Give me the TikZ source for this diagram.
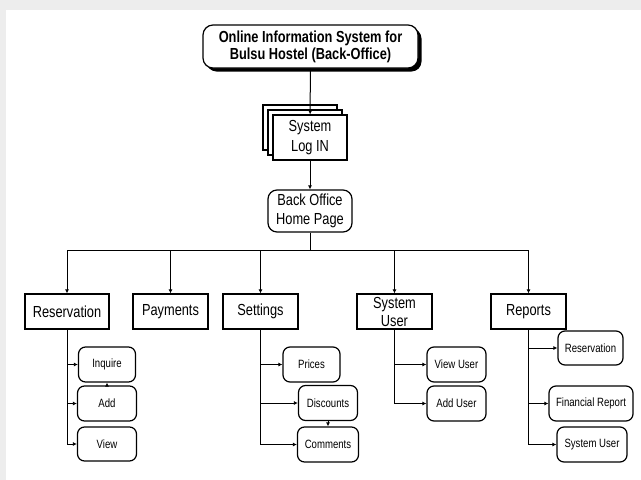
\documentclass[tikz,border=0pt]{standalone}
\usepackage{fontspec}
\setmainfont{Liberation Sans}[FakeStretch=0.8]
\usetikzlibrary{arrows.meta,shadows}

\tikzset{
  >={Latex[length=4pt,width=4pt]},
  link/.style={->,line width=1pt},
  topbox/.style={draw,line width=1.2pt,fill=white,rounded corners=10pt,align=center,inner sep=0pt,
    font=\fontsize{16}{17}\selectfont\bfseries,minimum width=215pt,minimum height=43pt,
    drop shadow={shadow xshift=3.5pt,shadow yshift=-3.5pt,fill=black,opacity=1}},
  stackbox/.style={draw,line width=1.2pt,fill=white,align=center,inner sep=0pt,
    font=\fontsize{16}{20}\selectfont,minimum width=74pt,minimum height=45pt,
    copy shadow={shadow xshift=-10pt,shadow yshift=10pt},
    copy shadow={shadow xshift=-5pt,shadow yshift=5pt}},
  homebox/.style={draw,line width=1.2pt,rounded corners=9pt,align=center,inner sep=0pt,
    font=\fontsize{16}{19}\selectfont,minimum width=84pt,minimum height=42pt},
  modbox/.style={draw,line width=1.2pt,align=center,inner sep=0pt,
    font=\fontsize{16}{18}\selectfont,minimum height=35pt},
  subbox/.style={draw,line width=1.2pt,rounded corners=7pt,inner sep=0pt,
    font=\fontsize{12}{14}\selectfont,minimum height=35pt},
}

\begin{document}
\begin{tikzpicture}[x=1pt,y=-1pt]
% Frame
\fill[black!7] (0,0) rectangle (641,480);
\fill[white] (6,10) rectangle (641,480);
\useasboundingbox (0,0) rectangle (641,480);
% Top
\node[topbox] (oisb) at (310.5,46.5) {Online Information System for\\Bulsu Hostel (Back-Office)};
\node[stackbox] (login) at (310,137.5) {System\\Log IN};
\node[homebox] (home) at (310,211) {Back Office\\Home Page};
\draw[link] (oisb) -- (login);
\draw[link] (login) -- (home);
% Modules
\node[modbox,minimum width=84pt] (resv) at (67,311.5) {Reservation};
\node[modbox,minimum width=75pt] (pay) at (170.5,311.5) {Payments};
\node[modbox,minimum width=75pt] (sett) at (260.5,311.5) {Settings};
\node[modbox,minimum width=75pt] (sysu) at (394.5,311.5) {System\\User};
\node[modbox,minimum width=75pt] (rep) at (528.5,311.5) {Reports};
\coordinate (bus) at (310,250);
\draw[line width=1pt] (home) -- (bus);
\draw[link] (bus) -| (resv);
\draw[link] (bus) -| (pay);
\draw[link] (bus) -| (sett);
\draw[link] (bus) -| (sysu);
\draw[link] (bus) -| (rep);
% Reservation
\node[subbox,minimum width=57pt] (inq) at (107,364.5) {Inquire};
\node[subbox,minimum width=59pt] (add) at (107,403.5) {Add};
\node[subbox,minimum width=59pt,minimum height=34pt] (view) at (107,444) {View};
\draw[link] (resv) |- (inq);
\draw[link] (resv) |- (add);
\draw[link] (resv) |- (view);
\draw[link] (add) -- (inq);
% Settings
\node[subbox,minimum width=57pt] (price) at (311.5,364.5) {Prices};
\node[subbox,minimum width=59pt] (disc) at (328,403) {Discounts};
\node[subbox,minimum width=61pt] (comm) at (328,444.5) {Comments};
\draw[link] (sett) |- (price);
\draw[link] (sett) |- (disc);
\draw[link] (sett) |- (comm);
\draw[link] (disc) -- (comm);
% System User
\node[subbox,minimum width=59pt] (viewu) at (456.5,364.5) {View User};
\node[subbox,minimum width=59pt] (addu) at (456.5,403.5) {Add User};
\draw[link] (sysu) |- (viewu);
\draw[link] (sysu) |- (addu);
% Reports
\node[subbox,minimum width=65pt,minimum height=34pt] (rres) at (590.5,348) {Reservation};
\node[subbox,minimum width=84pt] (fin) at (591,403.5) {Financial Report};
\node[subbox,minimum width=70pt] (rsys) at (592,444.5) {System User};
\draw[link] (rep) |- (rres);
\draw[link] (rep) |- (fin);
\draw[link] (rep) |- (rsys);
\end{tikzpicture}
\end{document}
